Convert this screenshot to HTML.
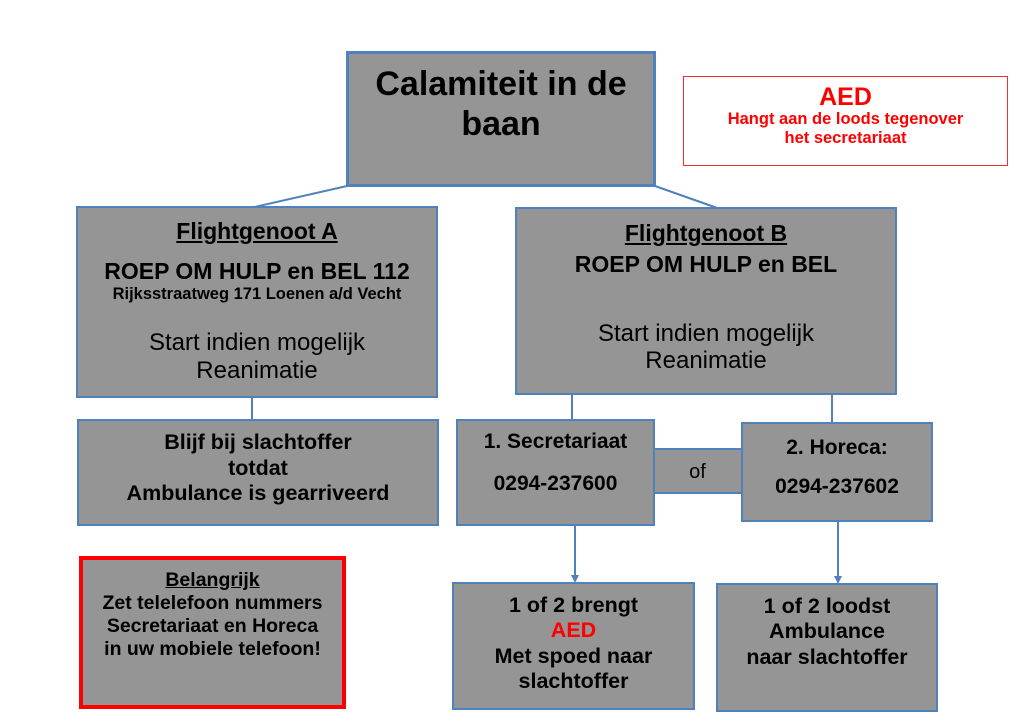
<!DOCTYPE html>
<html><head><style>
body{margin:0;width:1024px;height:724px;background:#fff;position:relative;overflow:hidden;font-family:"Liberation Sans",Arial,sans-serif;}
.b{position:absolute;box-sizing:border-box;background:#959595;border:2px solid #4f81bd;text-align:center;color:#000;}
.t{position:absolute;left:-20px;right:-20px;text-align:center;white-space:nowrap;}
.bold{font-weight:bold}
u{text-decoration:underline}
</style></head><body>
<svg width="1024" height="724" style="position:absolute;left:0;top:0">
<g stroke="#4f81bd" stroke-width="2" fill="none">
<line x1="347" y1="186" x2="250" y2="208"/>
<line x1="655" y1="186" x2="720" y2="209"/>
<line x1="252" y1="397" x2="252" y2="421"/>
<line x1="572" y1="394" x2="572" y2="421"/>
<line x1="832" y1="394" x2="832" y2="424"/>
<line x1="575" y1="517" x2="575" y2="576"/>
<line x1="838" y1="517" x2="838" y2="577"/>
</g>
<polygon points="571,575 579,575 575,583" fill="#4f81bd"/>
<polygon points="834,576 842,576 838,584" fill="#4f81bd"/>
</svg>
<div class="b" style="left:346px;top:51px;width:310px;height:136px;border-width:3px;">
<div class="t bold" style="top:10px;font-size:34px;line-height:40px;">Calamiteit in de<br>baan</div></div>
<div style="position:absolute;left:683px;top:76px;width:325px;height:90px;box-sizing:border-box;border:1px solid #f03030;background:#fff;text-align:center;color:#f00;font-weight:bold;">
<div style="font-size:25px;margin-top:7px;line-height:26px">AED</div>
<div style="font-size:16.5px;line-height:19px;margin-left:-20px;margin-right:-20px">Hangt aan de loods tegenover<br>het secretariaat</div></div>
<div class="b" style="left:76px;top:206px;width:362px;height:192px;">
<div class="t bold" style="top:10px;font-size:23px;line-height:26px"><u>Flightgenoot A</u></div>
<div class="t bold" style="top:50px;font-size:23px;line-height:26px">ROEP OM HULP en BEL 112</div>
<div class="t bold" style="top:77px;font-size:16.5px;line-height:18px">Rijksstraatweg 171 Loenen a/d Vecht</div>
<div class="t" style="top:121px;font-size:24px;line-height:28px">Start indien mogelijk<br>Reanimatie</div></div>
<div class="b" style="left:515px;top:207px;width:382px;height:188px;">
<div class="t bold" style="top:11px;font-size:23px;line-height:26px"><u>Flightgenoot B</u></div>
<div class="t bold" style="top:42px;font-size:23px;line-height:26px">ROEP OM HULP en BEL</div>
<div class="t" style="top:111px;font-size:24px;line-height:27px">Start indien mogelijk<br>Reanimatie</div></div>
<div class="b" style="left:77px;top:419px;width:362px;height:107px;">
<div class="t bold" style="top:9px;font-size:21.5px;line-height:25.5px">Blijf bij slachtoffer<br>totdat<br>Ambulance is gearriveerd</div></div>
<div class="b" style="left:651px;top:448px;width:93px;height:46px;">
<div class="t" style="top:11px;font-size:20px;line-height:22px">of</div></div>
<div class="b" style="left:456px;top:419px;width:199px;height:107px;">
<div class="t bold" style="top:9px;font-size:21px;line-height:24px">1. Secretariaat</div>
<div class="t bold" style="top:51px;font-size:21px;line-height:24px">0294-237600</div></div>
<div class="b" style="left:741px;top:422px;width:192px;height:100px;">
<div class="t bold" style="top:12px;font-size:21px;line-height:24px">2. Horeca:</div>
<div class="t bold" style="top:51px;font-size:21px;line-height:24px">0294-237602</div></div>
<div class="b" style="left:79px;top:556px;width:267px;height:153px;border:4px solid #f00;">
<div class="t bold" style="top:9px;font-size:19.5px;line-height:23px"><u>Belangrijk</u><br>Zet telelefoon nummers<br>Secretariaat en Horeca<br>in uw mobiele telefoon!</div></div>
<div class="b" style="left:452px;top:582px;width:243px;height:128px;">
<div class="t bold" style="top:9px;font-size:21.5px;line-height:25.3px">1 of 2 brengt<br><span style="color:#f00">AED</span><br>Met spoed naar<br>slachtoffer</div></div>
<div class="b" style="left:716px;top:583px;width:222px;height:129px;">
<div class="t bold" style="top:9px;font-size:21.5px;line-height:25.3px">1 of 2 loodst<br>Ambulance<br>naar slachtoffer</div></div>
</body></html>
